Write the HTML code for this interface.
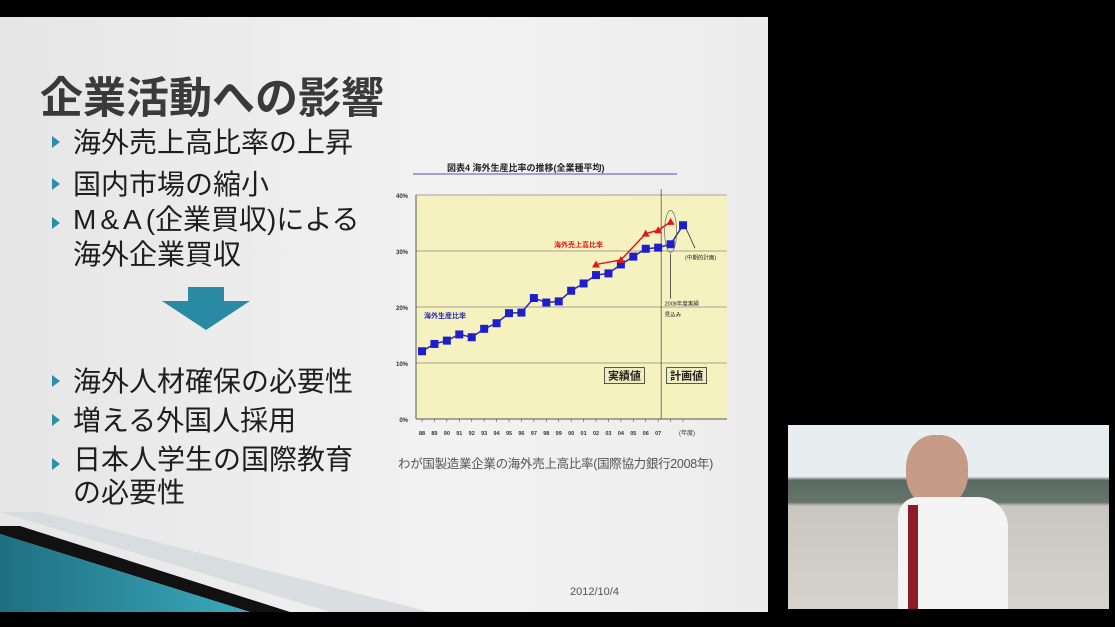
<!DOCTYPE html>
<html><head><meta charset="utf-8">
<style>
body{margin:0;width:1115px;height:627px;background:#000;position:relative;overflow:hidden;font-family:"Liberation Sans","Noto Sans CJK JP",sans-serif}
#slide{position:absolute;left:0;top:17px;width:768px;height:595px;background:linear-gradient(90deg,#e6e6e6,#f2f2f2 60%,#ececec);overflow:hidden}
.t{position:absolute;color:#262626;white-space:nowrap}
.b{position:absolute;width:0;height:0;border-left:8px solid #2a8fa8;border-top:6px solid transparent;border-bottom:6px solid transparent}
.bl{font-size:28px;font-weight:normal;color:#1e1e1e}
</style></head><body>
<div id="slide">
<div class="t" style="left:40px;top:47px;font-size:43px;font-weight:bold;color:#3a3a3a">企業活動への影響</div>
<div class="b" style="left:52px;top:119px"></div>
<div class="t bl" style="left:73px;top:104px">海外売上高比率の上昇</div>
<div class="b" style="left:52px;top:161px"></div>
<div class="t bl" style="left:73px;top:146px">国内市場の縮小</div>
<div class="b" style="left:52px;top:200px"></div>
<div class="t bl" style="left:73px;top:185px;line-height:35px"><span style="letter-spacing:4px">M&amp;A</span>(企業買収)による<br>海外企業買収</div>
<svg style="position:absolute;left:160px;top:270px" width="92" height="44"><polygon points="28,0 64,0 64,14 90,14 46,43 2,14 28,14" fill="#2a8aa3"/></svg>
<div class="b" style="left:52px;top:358px"></div>
<div class="t bl" style="left:73px;top:343px">海外人材確保の必要性</div>
<div class="b" style="left:52px;top:397px"></div>
<div class="t bl" style="left:73px;top:382px">増える外国人採用</div>
<div class="b" style="left:52px;top:441px"></div>
<div class="t bl" style="left:73px;top:426px;line-height:33px">日本人学生の国際教育<br>の必要性</div>
<div class="t" style="left:398px;top:436px;font-size:12.5px;color:#555;letter-spacing:-0.3px">わが国製造業企業の海外売上高比率(国際協力銀行2008年)</div>
<div class="t" style="left:570px;top:569px;font-size:11px;color:#555">2012/10/4</div>
<svg style="position:absolute;left:0;top:495px" width="440" height="100">
<defs><linearGradient id="tg" x1="0" x2="1"><stop offset="0" stop-color="#1f6f82"/><stop offset="1" stop-color="#3aaabb"/></linearGradient></defs>
<polygon points="0,0 40,0 430,100 330,100" fill="#d3dadc" opacity="0.8"/>
<polygon points="0,14 20,14 290,100 250,100 0,22" fill="#111"/>
<polygon points="0,22 250,100 0,100" fill="url(#tg)"/>
</svg>
<svg id="chart" style="position:absolute;left:380px;top:120px" width="380" height="300"></svg>
</div>
<div style="position:absolute;left:788px;top:425px;width:321px;height:184px;background:linear-gradient(180deg,#e8eef0 0,#e8eef0 28%,#5a6a60 30%,#66756c 42%,#c9c6bf 44%,#d6d3cc 100%)">
<div style="position:absolute;left:118px;top:10px;width:62px;height:72px;border-radius:45%;background:#c59b86"></div>
<div style="position:absolute;left:110px;top:72px;width:110px;height:112px;background:#f4f4f4;border-radius:20px 30px 0 0"></div>
<div style="position:absolute;left:120px;top:80px;width:10px;height:104px;background:#8d1c26"></div>
</div>
<script>
const NS='http://www.w3.org/2000/svg';
const years=['88','89','90','91','92','93','94','95','96','97','98','99','00','01','02','03','04','05','06','07','08','09'];
const production=[12.1,13.4,14.0,15.1,14.6,16.1,17.1,18.9,19.0,21.6,20.8,21.0,22.9,24.2,25.7,26.0,27.6,29.0,30.4,30.6,31.2,34.6];
const sales=[null,null,null,null,null,null,null,null,null,null,null,null,null,null,27.6,null,28.4,null,33.1,33.7,35.2,null];
const yTicks=[0,10,20,30,40];
const svg=document.getElementById('chart');
const L=36,R=347,T=58,B=282,X0=42,DX=12.43;
const x=i=>X0+i*DX, y=v=>B-(v/40)*(B-T);
function el(tag,a,p){const e=document.createElementNS(NS,tag);for(const k in a)e.setAttribute(k,a[k]);(p||svg).appendChild(e);return e;}
function tx(s,a){const e=el('text',a);e.textContent=s;return e;}
let e;
e=tx('図表4 海外生産比率の推移(全業種平均)',{x:67,y:34,'font-size':9,'font-weight':'bold',fill:'#222'});

el('line',{x1:33,y1:37,x2:297,y2:37,stroke:'#5050c0','stroke-width':1});
e=el('rect',{x:L,y:T,width:R-L,height:B-T,fill:'#f5f2c0'});

yTicks.forEach(v=>{
 if(v>0){e=el('line',{x1:L,y1:y(v),x2:R,y2:y(v),stroke:'#888','stroke-width':0.7});}
 e=tx(v+'%',{x:L-8,y:y(v)+3,'font-size':6,'text-anchor':'end',fill:'#333','font-weight':'bold'});
 
});
el('line',{x1:L,y1:T,x2:L,y2:B,stroke:'#555'});
el('line',{x1:L,y1:B,x2:R,y2:B,stroke:'#555'});
years.forEach((s,i)=>{
 el('line',{x1:x(i),y1:B,x2:x(i),y2:B+3,stroke:'#555','stroke-width':0.6});
 if(i<20){e=tx(s,{x:x(i),y:B+16,'font-size':5.5,'text-anchor':'middle',fill:'#333','font-weight':'bold'});
 }
});
tx('(年度)',{x:x(21)+4,y:B+16,'font-size':6,'text-anchor':'middle',fill:'#333'});
el('line',{x1:x(19)+3,y1:T-6,x2:x(19)+3,y2:B,stroke:'#555','stroke-width':0.8});
let d='';production.forEach((v,i)=>{d+=(d?'L':'M')+x(i)+','+y(v);});
e=el('path',{d:d,fill:'none',stroke:'#2a2ab0','stroke-width':1.5});

production.forEach((v,i)=>{e=el('rect',{x:x(i)-4,y:y(v)-4,width:8,height:8,fill:'#1e1ecc'});
});
d='';sales.forEach((v,i)=>{if(v!=null)d+=(d?'L':'M')+x(i)+','+y(v);});
e=el('path',{d:d,fill:'none',stroke:'#e01818','stroke-width':1.5});

sales.forEach((v,i)=>{if(v==null)return;e=el('polygon',{points:`${x(i)},${y(v)-4} ${x(i)+4},${y(v)+3} ${x(i)-4},${y(v)+3}`,fill:'#e01818'});
});
e=tx('海外売上高比率',{x:174,y:110,'font-size':7,fill:'#e01818','font-weight':'bold'});
e=tx('海外生産比率',{x:44,y:181,'font-size':7,fill:'#2a2ab0','font-weight':'bold'});
el('ellipse',{cx:x(20),cy:y(33.5),rx:6,ry:21,fill:'none',stroke:'#666','stroke-width':0.7});
el('line',{x1:x(20),y1:y(29.5),x2:x(20),y2:y(21.5),stroke:'#333','stroke-width':0.8});
tx('2008年度実績',{x:x(20)-6,y:y(20.3),'font-size':5.5,fill:'#222'});
tx('見込み',{x:x(20)-6,y:y(18.3),'font-size':5.5,fill:'#222'});
el('line',{x1:x(21)+3,y1:y(34),x2:x(21)+12,y2:y(30.5),stroke:'#333','stroke-width':0.8});
tx('(中期的計画)',{x:x(21)+2,y:y(28.5),'font-size':5.5,fill:'#222'});
[['実績値',x(15)-4],['計画値',x(20)-4]].forEach(([s,xx])=>{
 el('rect',{x:xx,y:y(9)-1,width:40,height:16,fill:'#f0eec0',stroke:'#333','stroke-width':0.8});
 e=tx(s,{x:xx+20,y:y(9)+11,'font-size':11,'text-anchor':'middle',fill:'#222','font-weight':'bold'});
 
});
</script>
</body></html>
